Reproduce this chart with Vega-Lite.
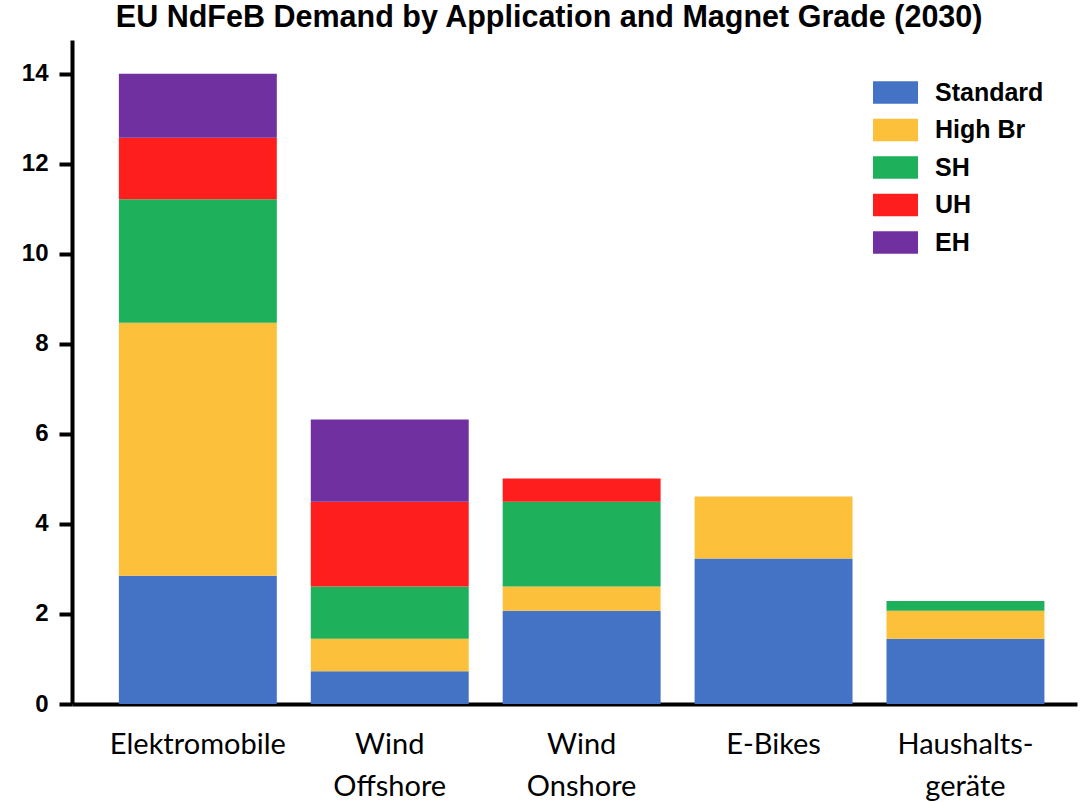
{
  "$schema": "https://vega.github.io/schema/vega-lite/v6.json",
  "width": 1005,
  "height": 664,
  "autosize": {"type": "none"},
  "padding": {"left": 72, "top": 40, "right": 12, "bottom": 98},
  "background": "white",
  "title": {
    "text": "EU NdFeB Demand by Application and Magnet Grade (2030)",
    "font": "Liberation Sans",
    "fontSize": 30.5,
    "fontWeight": "bold",
    "color": "#000000",
    "anchor": "middle",
    "frame": "bounds",
    "offset": 7
  },
  "data": {
    "values": [
      {"app": "Elektromobile", "grade": "Standard", "k": 1, "value": 2.85},
      {"app": "Elektromobile", "grade": "High Br", "k": 2, "value": 5.62},
      {"app": "Elektromobile", "grade": "SH", "k": 3, "value": 2.74},
      {"app": "Elektromobile", "grade": "UH", "k": 4, "value": 1.37},
      {"app": "Elektromobile", "grade": "EH", "k": 5, "value": 1.42},
      {"app": "Wind Offshore", "grade": "Standard", "k": 1, "value": 0.73},
      {"app": "Wind Offshore", "grade": "High Br", "k": 2, "value": 0.72},
      {"app": "Wind Offshore", "grade": "SH", "k": 3, "value": 1.16},
      {"app": "Wind Offshore", "grade": "UH", "k": 4, "value": 1.88},
      {"app": "Wind Offshore", "grade": "EH", "k": 5, "value": 1.83},
      {"app": "Wind Onshore", "grade": "Standard", "k": 1, "value": 2.07},
      {"app": "Wind Onshore", "grade": "High Br", "k": 2, "value": 0.54},
      {"app": "Wind Onshore", "grade": "SH", "k": 3, "value": 1.88},
      {"app": "Wind Onshore", "grade": "UH", "k": 4, "value": 0.52},
      {"app": "E-Bikes", "grade": "Standard", "k": 1, "value": 3.23},
      {"app": "E-Bikes", "grade": "High Br", "k": 2, "value": 1.38},
      {"app": "Haushaltsgeräte", "grade": "Standard", "k": 1, "value": 1.45},
      {"app": "Haushaltsgeräte", "grade": "High Br", "k": 2, "value": 0.62},
      {"app": "Haushaltsgeräte", "grade": "SH", "k": 3, "value": 0.22}
    ]
  },
  "mark": {"type": "bar"},
  "encoding": {
    "x": {
      "field": "app",
      "type": "nominal",
      "sort": ["Elektromobile", "Wind Offshore", "Wind Onshore", "E-Bikes", "Haushaltsgeräte"],
      "scale": {"paddingInner": 0.177, "paddingOuter": 0.207, "align": 0.59},
      "axis": {
        "title": null,
        "labelAngle": 0,
        "ticks": false,
        "domainColor": "#000000",
        "domainWidth": 4,
        "labelFont": "Lato",
        "labelFontSize": 29,
        "labelColor": "#000000",
        "labelPadding": 49,
        "labelLineHeight": 42,
        "labelBaseline": "alphabetic",
        "labelExpr": "datum.value == 'Wind Offshore' ? ['Wind', 'Offshore'] : datum.value == 'Wind Onshore' ? ['Wind', 'Onshore'] : datum.value == 'Haushaltsgeräte' ? ['Haushalts-', 'geräte'] : datum.value"
      }
    },
    "y": {
      "field": "value",
      "type": "quantitative",
      "aggregate": "sum",
      "stack": "zero",
      "scale": {"domain": [0, 14.75], "nice": false},
      "axis": {
        "title": null,
        "grid": false,
        "values": [0, 2, 4, 6, 8, 10, 12, 14],
        "domainColor": "#000000",
        "domainWidth": 4,
        "tickColor": "#000000",
        "tickWidth": 4,
        "tickSize": 13,
        "labelFont": "Liberation Sans",
        "labelFontWeight": "bold",
        "labelFontSize": 24,
        "labelColor": "#000000",
        "labelPadding": 11
      }
    },
    "order": {"field": "k", "type": "quantitative", "sort": "ascending"},
    "color": {
      "field": "grade",
      "type": "nominal",
      "sort": ["Standard", "High Br", "SH", "UH", "EH"],
      "scale": {
        "domain": ["Standard", "High Br", "SH", "UH", "EH"],
        "range": ["#4472C4", "#FDC03A", "#1EB05A", "#FF1E1E", "#7030A0"]
      },
      "legend": {
        "title": null,
        "orient": "none",
        "legendX": 811,
        "legendY": 40,
        "padding": 0,
        "symbolType": "M-2,-1H2V1H-2Z",
        "symbolSize": 506,
        "symbolStrokeWidth": 0,
        "symbolOpacity": 1,
        "labelFont": "Liberation Sans",
        "labelFontWeight": "bold",
        "labelFontSize": 25,
        "labelColor": "#000000",
        "labelOffset": 27,
        "rowPadding": 11.5
      }
    }
  },
  "config": {
    "view": {"stroke": null}
  }
}
